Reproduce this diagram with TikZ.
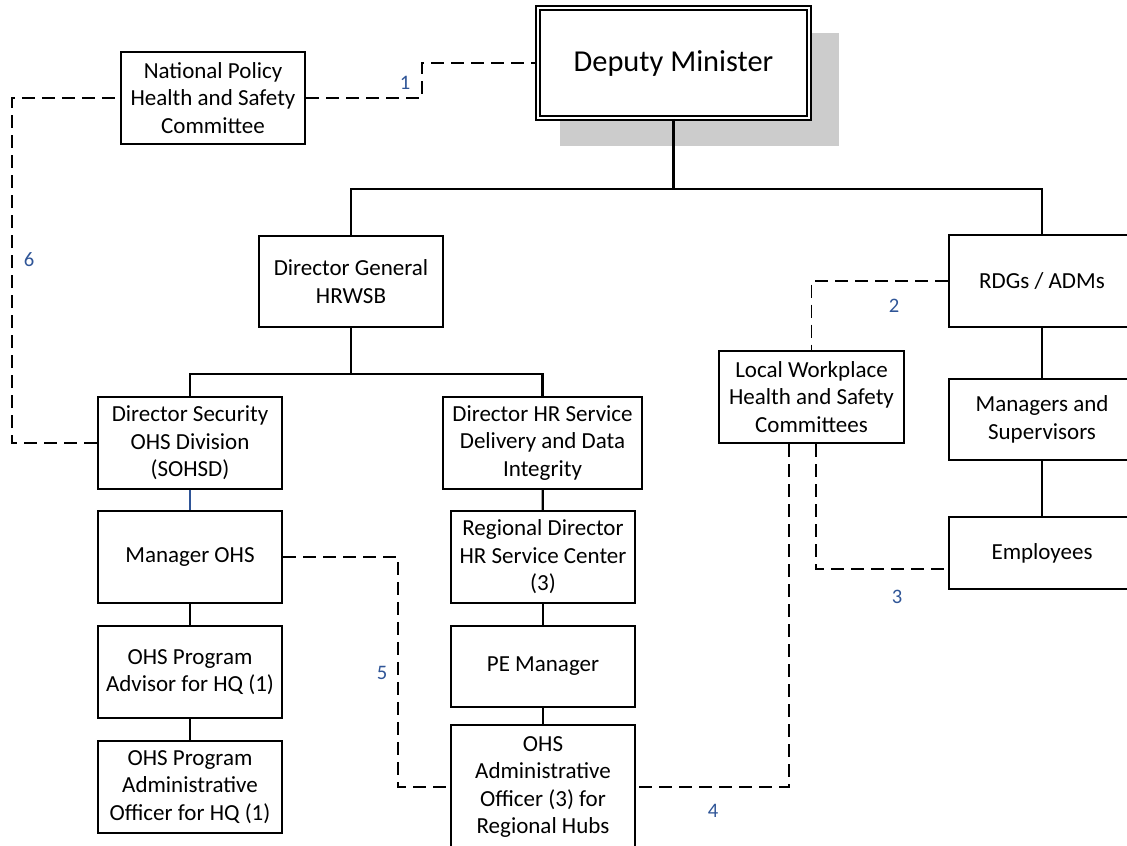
\documentclass[tikz,border=0pt]{standalone}
\usepackage{fontspec}
\setmainfont{Carlito}
\usetikzlibrary{shadows}
\definecolor{numblue}{RGB}{47,85,151}
\definecolor{shadowgray}{RGB}{204,204,204}
\begin{document}
\begin{tikzpicture}[x=0.5pt,y=-0.5pt,
		box/.style={draw, line width=1.1pt, fill=white, align=center, inner sep=1pt, minimum width=92pt, minimum height=46pt, font=\fontsize{11.5}{13.8}\selectfont},
		dashline/.style={dash pattern=on 6.5pt off 3.5pt, line width=0.9pt},
		tie/.style={line width=1.1pt},
		num/.style={text=numblue, inner sep=0pt, font=\fontsize{10.3}{12}\selectfont}]
		\useasboundingbox (0,0) rectangle (1127,845);
		\draw (673.5,63) node[box, double, double distance=1.2pt, line width=0.9pt, minimum width=135.5pt, minimum height=55pt, font=\fontsize{15.2}{18}\selectfont, drop shadow={shadow xshift=12.5pt, shadow yshift=-12.75pt, shadow scale=1.03, fill=shadowgray, opacity=1}] (dm) {Deputy Minister};
		\draw (213,98) node[box] (np) {National Policy\\Health and Safety\\Committee};
		\draw (351,281.5) node[box, minimum height=45.5pt] (dg) {Director General\\HRWSB};
		\draw (1042,281) node[box, minimum width=93pt] (rdg) {RDGs / ADMs};
		\draw (811.5,397) node[box, minimum width=92.5pt] (lw) {Local Workplace\\Health and Safety\\Committees};
		\draw (1042,419.5) node[box, minimum width=93pt, minimum height=40.5pt] (ms) {Managers and\\Supervisors};
		\draw (1042,553) node[box, minimum width=93pt, minimum height=36pt] (emp) {Employees};
		\draw (190,443) node[box] (sohsd) {Director Security\\OHS Division\\(SOHSD)};
		\draw (542.5,443) node[box, minimum width=99.5pt] (hrsd) {Director HR Service\\Delivery and Data\\Integrity};
		\draw (190,557) node[box] (mohs) {Manager OHS};
		\draw (543,557) node[box] (rdhr) {Regional Director\\HR Service Center\\(3)};
		\draw (190,672) node[box] (adv) {OHS Program\\Advisor for HQ (1)};
		\draw (543,666.5) node[box, minimum height=40.5pt] (pem) {PE Manager};
		\draw (190,787) node[box] (hqadm) {OHS Program\\Administrative\\Officer for HQ (1)};
		\draw (543,787) node[box, minimum height=62pt] (rhub) {OHS\\Administrative\\Officer (3) for\\Regional Hubs};
		\draw[tie] (dm.south) -- ++(0,70) coordinate (top);
		\draw[tie] (dg.north) |- (top) -| (rdg.north);
		\draw[tie] (dg.south) -- ++(0,46) coordinate (mid);
		\draw[tie] (sohsd.north) |- (mid) -| (hrsd.north);
		\draw[tie, numblue, line width=0.9pt] (sohsd) -- (mohs);
		\draw[tie] (mohs) -- (adv);
		\draw[tie] (adv) -- (hqadm);
		\draw[tie] (hrsd) -- (rdhr);
		\draw[tie] (rdhr) -- (pem);
		\draw[tie] (pem) -- (rhub);
		\draw[tie] (rdg) -- (ms);
		\draw[tie] (ms) -- (emp);
		\draw[dashline] (np.east) -- ++(116,0) |- (dm.west);
		\draw[dashline] (rdg.west) -| (lw.north);
		\draw[dashline] ([xshift=2.25pt]lw.south) |- ([yshift=-8pt]emp.west);
		\draw[dashline] ([xshift=-11.25pt]lw.south) |- (rhub.east);
		\draw[dashline] (mohs.east) -- ++(115,0) |- (rhub.west);
		\draw[dashline] (sohsd.west) -- ++(-85,0) |- (np.west);
		\node[num] (l1) at (405,83) {1};
		\node[num] (l2) at (894,306) {2};
		\node[num] (l3) at (897,597) {3};
		\node[num] (l4) at (713,811) {4};
		\node[num] (l5) at (382,673) {5};
		\node[num] (l6) at (29,260) {6};
	\end{tikzpicture}
\end{document}
